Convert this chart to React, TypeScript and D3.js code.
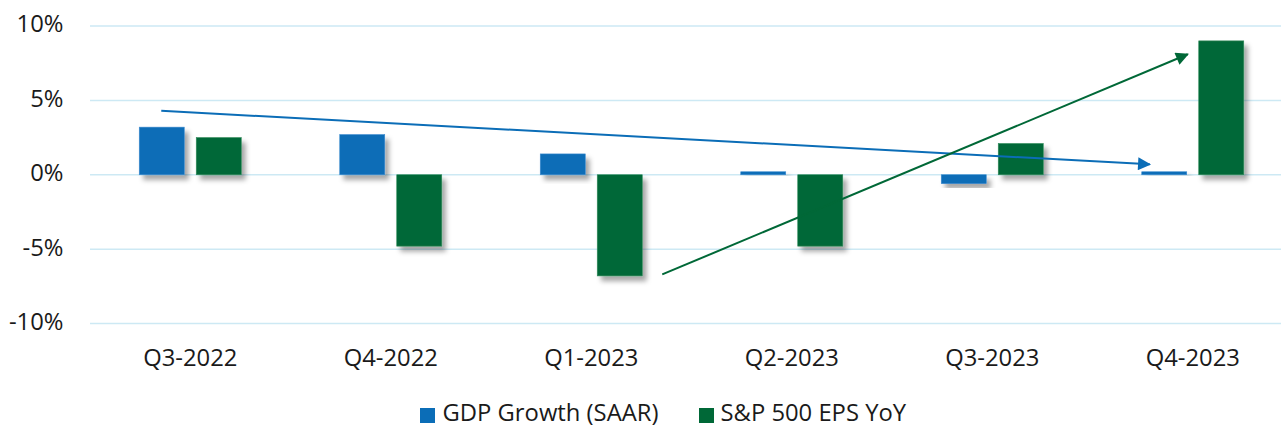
import React from "react";
import * as d3 from "d3";

const categories = ["Q3-2022", "Q4-2022", "Q1-2023", "Q2-2023", "Q3-2023", "Q4-2023"];
const gdpGrowth = [3.2, 2.7, 1.4, 0.2, -0.6, 0.2];
const epsYoY = [2.5, -4.8, -6.8, -4.8, 2.1, 9.0];
const yTicks = [10, 5, 0, -5, -10];
const seriesNames = ["GDP Growth (SAAR)", "S&P 500 EPS YoY"];
const seriesColors = ["#0B6DB7", "#006837"];
// trend arrows: [category index, value] start -> end
const gdpArrow = { from: [0, 4.3], to: [5, 0.7] };
const epsArrow = { from: [2, -6.7], to: [5, 8.1] };

const W = 1281;
const H = 427;
const FONT = "'Open Sans', 'Noto Sans', sans-serif";
const AFS = 23.8;

export default function App() {
  const x = d3.scaleBand<string>().domain(categories).range([90, 1293]).paddingInner(0).paddingOuter(0);
  const y = d3.scaleLinear().domain([-10, 10]).range([323.5, 26]);
  const barW = 45;
  const offs = [-51, 6];
  const cx = (i: number) => (x(categories[i]) as number) + x.bandwidth() / 2;
  const arrowX = (i: number, s: number) => cx(i) + s;

  const bar = (v: number, xi: number, k: number, key: string) => {
    const x0 = cx(xi) + offs[k];
    const y0 = y(Math.max(0, v));
    const h = Math.abs(y(v) - y(0));
    return (
      <rect key={key} x={x0} y={y0} width={barW} height={Math.max(h, 1)} fill={seriesColors[k]}
        stroke={k === 0 ? "#3d8bcf" : "#2f8a5a"} strokeWidth={0.6} filter="url(#shadow)" />
    );
  };

  const gx1 = arrowX(gdpArrow.from[0], -29), gy1 = y(gdpArrow.from[1]);
  const gx2 = arrowX(gdpArrow.to[0], -43), gy2 = y(gdpArrow.to[1]);
  const ex1 = arrowX(epsArrow.from[0], 71), ey1 = y(epsArrow.from[1]);
  const ex2 = arrowX(epsArrow.to[0], -5), ey2 = y(epsArrow.to[1]);

  return (
    <svg width={W} height={H} style={{ position: "absolute", left: 0, top: 0 }} fontFamily={FONT}>
      <defs>
        <filter id="shadow" x="-30%" y="-30%" width="170%" height="170%">
          <feDropShadow dx="4" dy="5" stdDeviation="2.5" floodColor="#000" floodOpacity="0.35" />
        </filter>
        <marker id="arrBlue" viewBox="0 0 10 10" refX="9" refY="5" markerWidth="7.5" markerHeight="6.5" orient="auto" markerUnits="strokeWidth">
          <path d="M0,0 L10,5 L0,10 z" fill={seriesColors[0]} />
        </marker>
        <marker id="arrGreen" viewBox="0 0 10 10" refX="9" refY="5" markerWidth="7.5" markerHeight="6.5" orient="auto" markerUnits="strokeWidth">
          <path d="M0,0 L10,5 L0,10 z" fill={seriesColors[1]} />
        </marker>
      </defs>
      <rect width={W} height={H} fill="#fff" />
      {yTicks.map((t) => (
        <g key={t}>
          <line x1={90} x2={W} y1={y(t)} y2={y(t)} stroke="#CDE9F4" strokeWidth={1.5} />
          <text x={63.5} y={y(t)} textAnchor="end" dominantBaseline="middle" fontSize={AFS} fill="#1a1a1a">
            {t}%
          </text>
        </g>
      ))}
      {categories.map((c, i) => (
        <g key={c}>
          {bar(gdpGrowth[i], i, 0, c + "g")}
          {bar(epsYoY[i], i, 1, c + "e")}
          <text x={cx(i)} y={366} textAnchor="middle" fontSize={AFS} fill="#1a1a1a">{c}</text>
        </g>
      ))}
      <line x1={gx1} y1={gy1} x2={gx2} y2={gy2} stroke={seriesColors[0]} strokeWidth={2} markerEnd="url(#arrBlue)" />
      <line x1={ex1} y1={ey1} x2={ex2} y2={ey2} stroke={seriesColors[1]} strokeWidth={2} markerEnd="url(#arrGreen)" />
      <g>
        <rect x={420} y={408} width={15} height={15} fill={seriesColors[0]} />
        <text x={442.5} y={420.5} fontSize={AFS} fill="#1a1a1a">{seriesNames[0]}</text>
        <rect x={699} y={408} width={15} height={15} fill={seriesColors[1]} />
        <text x={720.5} y={420.5} fontSize={AFS} fill="#1a1a1a">{seriesNames[1]}</text>
      </g>
    </svg>
  );
}
